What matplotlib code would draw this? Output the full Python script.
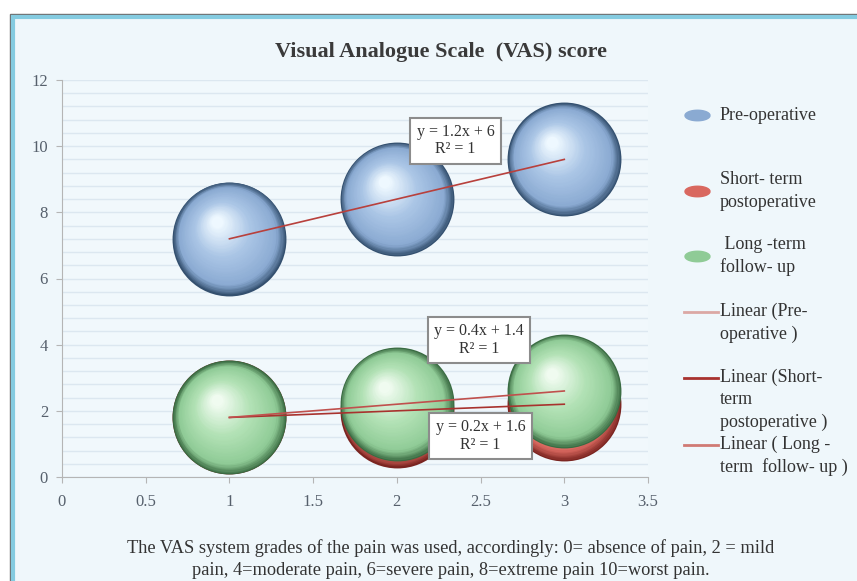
import numpy as np
import matplotlib.pyplot as plt
import matplotlib.transforms as mtransforms
from matplotlib.colors import LinearSegmentedColormap
from matplotlib.patches import Rectangle
from matplotlib.lines import Line2D

plt.rcParams['font.family'] = ['Liberation Serif', 'DejaVu Serif']

x = [1, 2, 3]
pre_op = [7.2, 8.4, 9.6]
short_term = [1.8, 2.0, 2.2]
long_term = [1.8, 2.2, 2.6]

eq_pre = "y = 1.2x + 6\nR² = 1"
eq_long = "y = 0.4x + 1.4\nR² = 1"
eq_short = "y = 0.2x + 1.6\nR² = 1"

legend_labels = ["Pre-operative", "Short- term\npostoperative", " Long -term\nfollow- up",
                 "Linear (Pre-\noperative )", "Linear (Short-\nterm\npostoperative )",
                 "Linear ( Long -\nterm  follow- up )"]

footnote = ("The VAS system grades of the pain was used, accordingly: 0= absence of pain, 2 = mild\n"
            "pain, 4=moderate pain, 6=severe pain, 8=extreme pain 10=worst pain.")

# sphere colours: rim, base, light, highlight
blue = ["#34506f", "#8aaad2", "#abc6e6", "#eef8ff"]
red = ["#7a2420", "#d9685f", "#e89a92", "#fbe0dc"]
green = ["#3a6b42", "#8fcb96", "#b3e2b6", "#f0fbf0"]

fig = plt.figure(figsize=(8.57, 5.81), dpi=100)
fig.patch.set_facecolor("white")

# outer frame
fig.patches.append(Rectangle((10 / 857, -0.01), 1.0, 0.976 + 0.01, transform=fig.transFigure,
                             facecolor="#eff7fb", edgecolor="#6f6f6f", lw=1.0, zorder=-2))
fig.patches.append(Rectangle((13 / 857, -0.01), 1.0, 0.970 + 0.01, transform=fig.transFigure,
                             facecolor="none", edgecolor="#84cbe0", lw=3.0, zorder=-1))

ax = fig.add_axes([62 / 857, 1 - 477 / 581, (648 - 62) / 857, (477 - 80) / 581])
ax.set_facecolor("#f1f8fc")
ax.set_xlim(0, 3.5)
ax.set_ylim(0, 12)
ax.set_xticks(np.arange(0, 3.51, 0.5))
ax.set_xticklabels(["0", "0.5", "1", "1.5", "2", "2.5", "3", "3.5"])
ax.set_yticks(np.arange(0, 12.1, 2))
ax.set_yticks(np.arange(0, 12.01, 0.4), minor=True)
ax.tick_params(axis="y", which="minor", length=0)
ax.grid(axis="y", which="both", color="#dce7f0", lw=1.0)
ax.set_axisbelow(True)
for s in ["top", "right"]:
    ax.spines[s].set_visible(False)
for s in ["left", "bottom"]:
    ax.spines[s].set_color("#b5b5b5")
ax.tick_params(axis="both", which="major", colors="#b5b5b5", labelcolor="#56606c",
               labelsize=12, length=4)
ax.tick_params(axis="x", pad=8)
ax.tick_params(axis="y", pad=6)


def spheres(xs, ys, cols, r_pt=41, n=45):
    cmap = LinearSegmentedColormap.from_list("s", list(zip([0, 0.18, 0.6, 1.0], cols)))
    for k in range(n):
        f = k / (n - 1)
        rad = r_pt * (1 - 0.9 * f)
        tr = mtransforms.offset_copy(ax.transData, fig=fig, x=-0.22 * r_pt * f,
                                     y=0.3 * r_pt * f, units="points")
        ax.scatter(xs, ys, s=(2 * rad) ** 2, color=cmap(f ** 0.9), linewidths=0,
                   transform=tr, zorder=2)


spheres(x, pre_op, blue)
spheres(x, short_term, red)
spheres(x, long_term, green)

# linear trendlines
for ys, c in [(pre_op, "#b8403c"), (short_term, "#a8322e"), (long_term, "#c0504d")]:
    fit = np.polyfit(x, ys, 1)
    ax.plot(x, np.polyval(fit, x), color=c, lw=1.2, zorder=3)

box = dict(boxstyle="square,pad=0.4", facecolor="white", edgecolor="#8c8c8c", lw=1.5)
ax.text(2.35, 10.17, eq_pre, ha="center", va="center", fontsize=11.5, linespacing=1.1,
        bbox=box, zorder=4, color="#333333")
ax.text(2.49, 4.14, eq_long, ha="center", va="center", fontsize=11.5, linespacing=1.1,
        bbox=box, zorder=4, color="#333333")
ax.text(2.50, 1.24, eq_short, ha="center", va="center", fontsize=11.5, linespacing=1.1,
        bbox=box, zorder=4, color="#333333")

fig.text(441 / 857, 1 - 52 / 581, "Visual Analogue Scale  (VAS) score", ha="center",
         va="center", fontsize=16, fontweight="bold", color="#3a3a3a")
fig.text(451 / 857, 1 - 559 / 581, footnote, ha="center", va="center", fontsize=13.2,
         linespacing=1.35, color="#333333")

# legend
ell = np.linspace(0, 2 * np.pi, 60)
ell_marker = np.column_stack([np.cos(ell), 0.42 * np.sin(ell)])
leg_handles = [("m", blue[1]), ("m", red[1]), ("m", green[1]),
               ("l", "#dba8a4"), ("l", "#a8322e"), ("l", "#d07a74")]
leg_y = [115, 191, 256, 323, 400, 456]
for (kind, c), lab, yy in zip(leg_handles, legend_labels, leg_y):
    fy = 1 - yy / 581
    if kind == "m":
        fig.add_artist(Line2D([697 / 857], [fy], marker=ell_marker, markersize=18,
                              color=c, markeredgecolor=c, transform=fig.transFigure))
    else:
        top = 1 - (yy - 22 * (lab.count("\n")) / 2) / 581
        fig.add_artist(Line2D([684 / 857, 718 / 857], [top, top], color=c, lw=2,
                              transform=fig.transFigure))
    fig.text(720 / 857, fy, lab, ha="left", va="center", fontsize=13, linespacing=1.4,
             color="#333333")

fig.savefig("out.png", dpi=100)
